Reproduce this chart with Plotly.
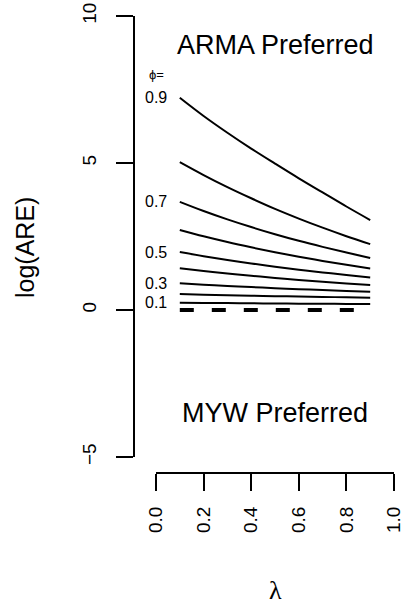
import plotly.graph_objects as go

# ---- data ----
lam = [0.1, 0.2, 0.3, 0.4, 0.5, 0.6, 0.7, 0.8, 0.9]
phi_labels = ["0.1", "0.2", "0.3", "0.4", "0.5", "0.6", "0.7", "0.8", "0.9"]
log_are = {
    "0.9": [7.220, 6.600, 6.030, 5.490, 4.980, 4.480, 4.000, 3.520, 3.060],
    "0.8": [5.030, 4.590, 4.180, 3.800, 3.440, 3.110, 2.800, 2.510, 2.240],
    "0.7": [3.680, 3.368, 3.083, 2.821, 2.578, 2.353, 2.147, 1.954, 1.771],
    "0.6": [2.720, 2.506, 2.311, 2.132, 1.965, 1.811, 1.670, 1.538, 1.412],
    "0.5": [1.970, 1.829, 1.701, 1.583, 1.473, 1.372, 1.279, 1.192, 1.109],
    "0.4": [1.420, 1.327, 1.242, 1.164, 1.091, 1.024, 0.962, 0.904, 0.849],
    "0.3": [0.910, 0.863, 0.820, 0.780, 0.743, 0.709, 0.678, 0.649, 0.621],
    "0.2": [0.540, 0.520, 0.502, 0.486, 0.471, 0.457, 0.444, 0.432, 0.420],
    "0.1": [0.250, 0.242, 0.235, 0.228, 0.222, 0.216, 0.211, 0.206, 0.201],
}
ref_line = [0, 0, 0, 0, 0, 0, 0, 0, 0]
labelled_phi = ["0.9", "0.7", "0.5", "0.3", "0.1"]
x_ticks = [0.0, 0.2, 0.4, 0.6, 0.8, 1.0]
x_ticktext = ["0.0", "0.2", "0.4", "0.6", "0.8", "1.0"]
y_ticks = [-5, 0, 5, 10]
y_ticktext = ["\u22125", "0", "5", "10"]

W, H = 405, 609
FONT = "Liberation Sans, Arial, Helvetica, sans-serif"

fig = go.Figure()
for p in phi_labels:
    fig.add_trace(go.Scatter(x=lam, y=log_are[p], mode="lines",
                             line=dict(color="black", width=2, shape="spline", smoothing=1.0),
                             showlegend=False, hoverinfo="skip"))
fig.add_trace(go.Scatter(x=lam, y=ref_line, mode="lines",
                         line=dict(color="black", width=4, dash="14px,18px"),
                         showlegend=False, hoverinfo="skip"))

annotations = []
for p in labelled_phi:
    annotations.append(dict(x=0.0, y=log_are[p][0], xref="x", yref="y", text=p,
                            showarrow=False, xanchor="center", yanchor="middle",
                            font=dict(size=16, color="black", family=FONT)))
annotations.append(dict(x=0.0, y=8.0, xref="x", yref="y", text="\u03d5=",
                        showarrow=False, xanchor="center", yanchor="middle",
                        font=dict(size=13, color="black", family=FONT)))
annotations.append(dict(x=0.5, y=9.0, xref="x", yref="y", text="ARMA Preferred",
                        showarrow=False, xanchor="center", yanchor="middle",
                        font=dict(size=27, color="black", family=FONT)))
annotations.append(dict(x=0.5, y=-3.5, xref="x", yref="y", text="MYW Preferred",
                        showarrow=False, xanchor="center", yanchor="middle",
                        font=dict(size=27, color="black", family=FONT)))
annotations.append(dict(x=25 / W, y=1 - 248 / H, xref="paper", yref="paper",
                        text="log(ARE)", textangle=-90, showarrow=False,
                        xanchor="center", yanchor="middle",
                        font=dict(size=25, color="black", family=FONT)))
annotations.append(dict(x=275 / W, y=1 - 590 / H, xref="paper", yref="paper",
                        text="\u03bb", showarrow=False,
                        xanchor="center", yanchor="middle",
                        font=dict(size=26, color="black", family="Liberation Serif, DejaVu Serif, serif")))

fig.update_layout(
    width=W, height=H,
    margin=dict(l=0, r=0, t=0, b=0, autoexpand=False),
    paper_bgcolor="white", plot_bgcolor="white",
    showlegend=False,
    annotations=annotations,
    xaxis=dict(domain=[156 / W, 394 / W], range=[0, 1], anchor="free",
               position=(H - 473) / H, automargin=False,
               showline=True, linecolor="black", linewidth=2,
               ticks="outside", ticklen=17, tickwidth=2, tickcolor="black",
               tickvals=x_ticks, ticktext=x_ticktext, tickangle=-90,
               ticklabelstandoff=8,
               tickfont=dict(size=19, color="black", family=FONT),
               showgrid=False, zeroline=False),
    yaxis=dict(domain=[(H - 457) / H, (H - 16) / H], range=[-5, 10], anchor="free",
               position=134 / W, automargin=False,
               showline=True, linecolor="black", linewidth=2,
               ticks="outside", ticklen=17, tickwidth=2, tickcolor="black",
               tickvals=y_ticks, ticktext=y_ticktext, tickangle=-90,
               ticklabelstandoff=12,
               tickfont=dict(size=19, color="black", family=FONT),
               showgrid=False, zeroline=False),
)

fig.write_html("out.html")
